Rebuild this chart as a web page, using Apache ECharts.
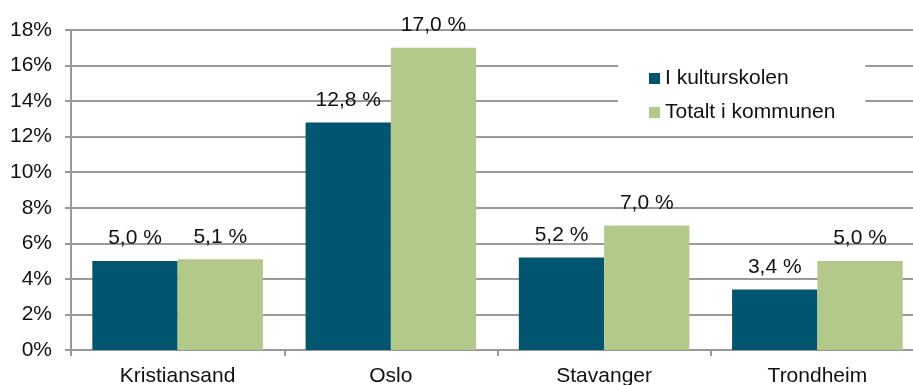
<!DOCTYPE html>
<html>
<head>
<meta charset="utf-8">
<script src="https://cdn.jsdelivr.net/npm/echarts@6/dist/echarts.min.js"></script>
<style>
  html, body { margin: 0; padding: 0; background: #fff; }
  #chart { width: 913px; height: 385px; }
</style>
</head>
<body>
<div id="chart"></div>
<script>
// Share of pupils by city: in the culture school vs. in the municipality overall (%)
const categories = ['Kristiansand', 'Oslo', 'Stavanger', 'Trondheim'];
const seriesNames = ['I kulturskolen', 'Totalt i kommunen'];
const kulturskolen = [5.0, 12.8, 5.2, 3.4];
const totaltKommunen = [5.1, 17.0, 7.0, 5.0];
const yTicks = [0, 2, 4, 6, 8, 10, 12, 14, 16, 18];

const FONT = '"Liberation Sans", Arial, sans-serif';
const TEXT = '#111';
const FS = 21;

const pctLabel = {
  show: true,
  position: 'top',
  distance: 12,
  fontFamily: FONT,
  fontSize: FS,
  color: TEXT,
  formatter: p => p.value.toFixed(1).replace('.', ',') + ' %'
};

const chart = echarts.init(document.getElementById('chart'), null, { renderer: 'canvas' });
chart.setOption({
  animation: false,
  backgroundColor: '#fff',
  grid: {
    left: 71, top: 30, width: 853, height: 320,
    containLabel: false,
    outerBoundsMode: 'none'
  },
  legend: {
    orient: 'vertical',
    left: 618,
    top: 50,
    padding: [18, 30, 3, 31],
    backgroundColor: '#fff',
    itemWidth: 11,
    itemHeight: 11,
    itemGap: 13,
    icon: 'rect',
    textStyle: { fontFamily: FONT, fontSize: FS, color: TEXT },
    data: seriesNames
  },
  xAxis: {
    type: 'category',
    data: categories,
    axisLine: { show: true, lineStyle: { color: '#999', width: 2 } },
    axisTick: { show: true, alignWithLabel: false, length: 6, lineStyle: { color: '#999', width: 2 } },
    axisLabel: { fontFamily: FONT, fontSize: FS, color: TEXT, margin: 16 }
  },
  yAxis: {
    type: 'value',
    min: yTicks[0],
    max: yTicks[yTicks.length - 1],
    interval: yTicks[1] - yTicks[0],
    axisLine: { show: true, lineStyle: { color: '#999', width: 2 } },
    axisTick: { show: true, length: 6, lineStyle: { color: '#999', width: 2 } },
    axisLabel: { fontFamily: FONT, fontSize: FS, color: TEXT, margin: 19, formatter: '{value}%' },
    splitLine: { show: true, lineStyle: { color: '#9a9a9a', width: 2 } }
  },
  series: [
    {
      name: seriesNames[0],
      type: 'bar',
      data: kulturskolen,
      barGap: '0%',
      barCategoryGap: '20%',
      itemStyle: { color: '#02556e' },
      label: pctLabel
    },
    {
      name: seriesNames[1],
      type: 'bar',
      data: totaltKommunen,
      itemStyle: { color: '#b3c98a' },
      label: pctLabel
    }
  ]
});
</script>
</body>
</html>
